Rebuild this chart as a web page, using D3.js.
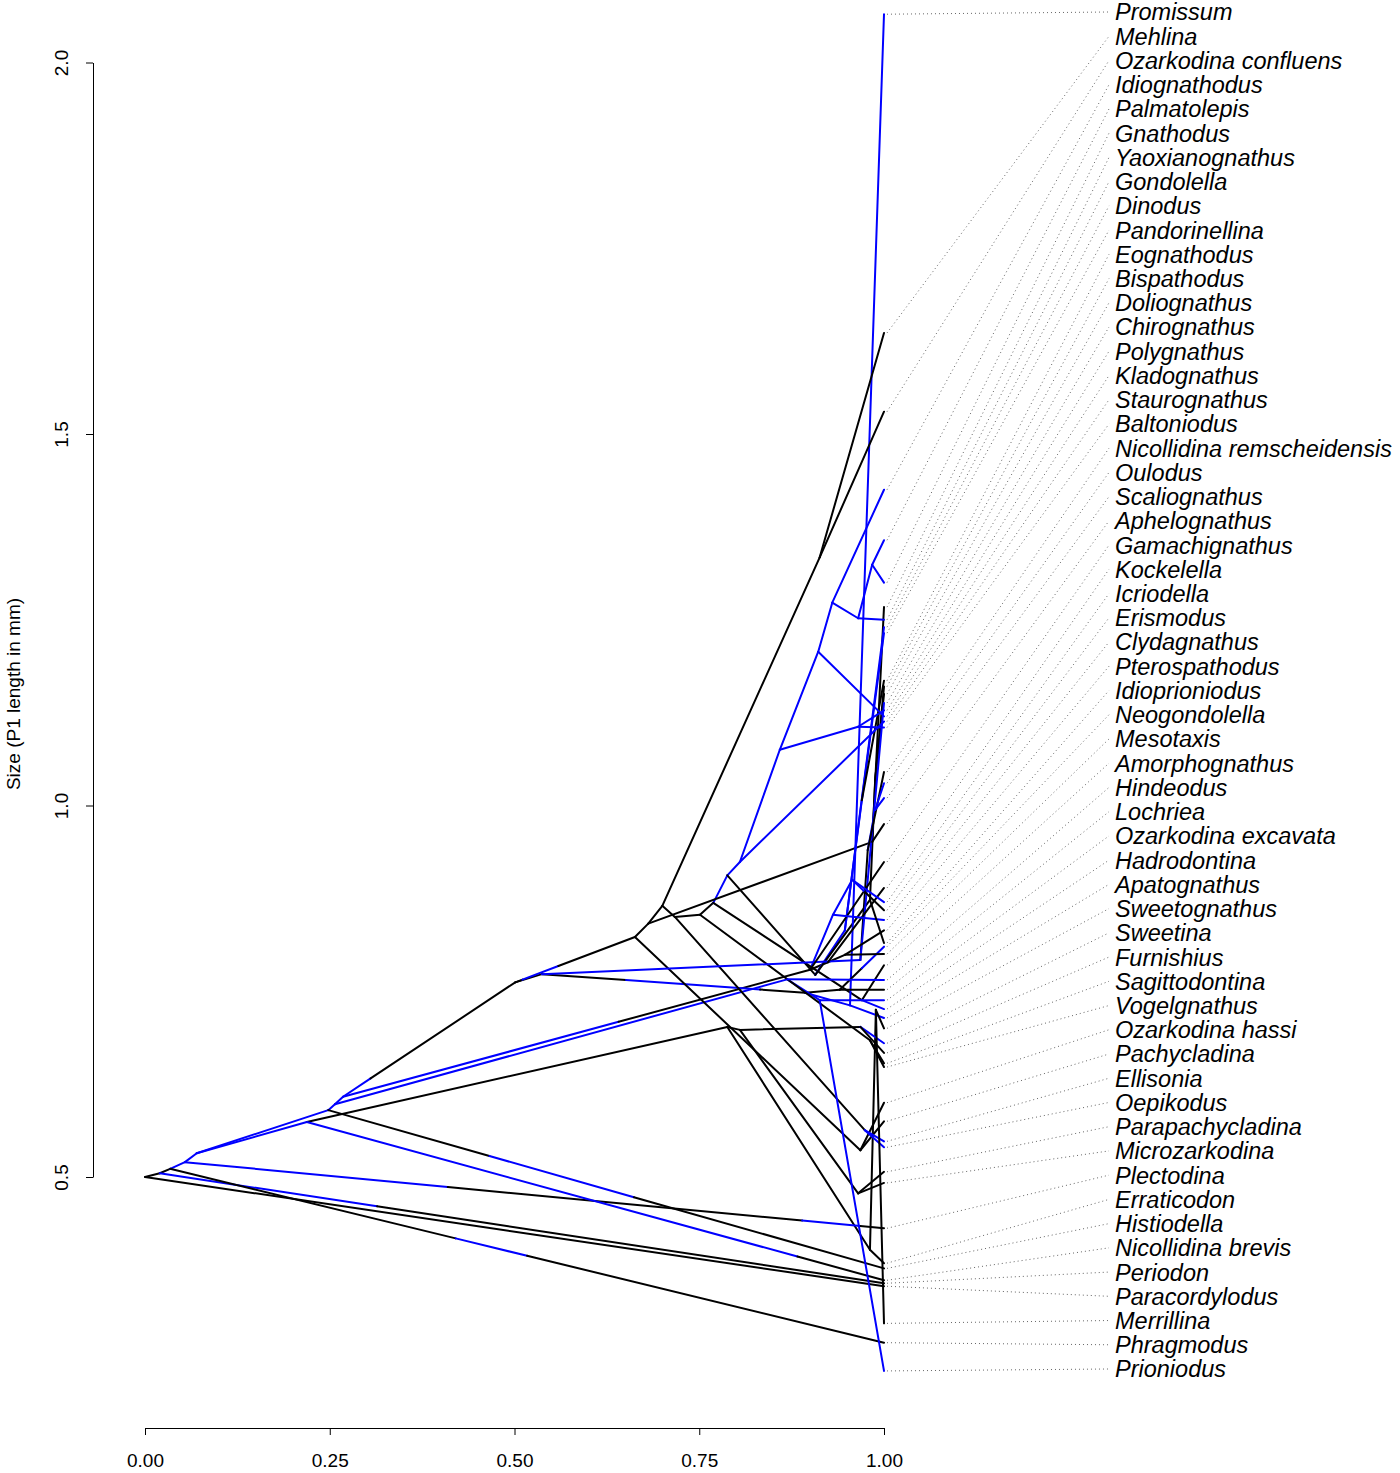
<!DOCTYPE html>
<html>
<head>
<meta charset="utf-8">
<script src="https://cdn.jsdelivr.net/npm/d3@7"></script>
<style>
  body { margin: 0; background: #fff; }
  text { font-family: "Liberation Sans", Arial, Helvetica, sans-serif; }
</style>
</head>
<body>
<div id="chart"></div>
<script>
// tips, top to bottom as listed on the right
const tipNames = ["Promissum", "Mehlina", "Ozarkodina confluens", "Idiognathodus", "Palmatolepis",
  "Gnathodus", "Yaoxianognathus", "Gondolella", "Dinodus", "Pandorinellina", "Eognathodus",
  "Bispathodus", "Doliognathus", "Chirognathus", "Polygnathus", "Kladognathus", "Staurognathus",
  "Baltoniodus", "Nicollidina remscheidensis", "Oulodus", "Scaliognathus", "Aphelognathus",
  "Gamachignathus", "Kockelella", "Icriodella", "Erismodus", "Clydagnathus", "Pterospathodus",
  "Idioprioniodus", "Neogondolella", "Mesotaxis", "Amorphognathus", "Hindeodus", "Lochriea",
  "Ozarkodina excavata", "Hadrodontina", "Apatognathus", "Sweetognathus", "Sweetina", "Furnishius",
  "Sagittodontina", "Vogelgnathus", "Ozarkodina hassi", "Pachycladina", "Ellisonia", "Oepikodus",
  "Parapachycladina", "Microzarkodina", "Plectodina", "Erraticodon", "Histiodella",
  "Nicollidina brevis", "Periodon", "Paracordylodus", "Merrillina", "Phragmodus", "Prioniodus"];

const tipValues = [2.065, 1.636, 1.530, 1.425, 1.357, 1.300, 1.267, 1.250, 1.240, 1.232, 1.168,
  1.160, 1.150, 1.138, 1.128, 1.120, 1.113, 1.105, 1.045, 1.030, 1.010, 0.975, 0.924, 0.889, 0.870,
  0.859, 0.846, 0.832, 0.815, 0.810, 0.800, 0.785, 0.765, 0.752, 0.738, 0.726, 0.714, 0.700, 0.680,
  0.667, 0.653, 0.648, 0.600, 0.575, 0.548, 0.540, 0.507, 0.492, 0.431, 0.384, 0.377, 0.361, 0.357,
  0.353, 0.303, 0.277, 0.239];

const tipParents = ["P", "MO", "MO", "B4", "B6", "B6", "Y0", "B5", "Q1", "Q2", "Q2", "Q4", "Q4",
  "Q5", "B7", "B3", "B1", "B7", "Q6", "Q7", "Q7", "Y0", "H1", "H8", "H7", "H7", "H6", "H8b", "Q3",
  "H10", "H8b", "H19", "H5", "H10", "H11", "H19", "P", "H15", "H12", "H12", "H18", "H18", "H16",
  "H16", "H17", "H17", "H13", "H13", "A3", "H14", "A6", "A5", "A1", "R", "H15", "A2", "H11"];

// k = black state, b = blue state (state of the branch leading to the tip)
const tipStates = ["b", "k", "k", "b", "b", "b", "k", "b", "b", "b", "k", "k", "k", "b", "b", "b",
  "b", "b", "k", "b", "b", "k", "k", "k", "b", "k", "b", "k", "k", "b", "k", "k", "b", "k", "b", "b",
  "b", "k", "b", "k", "k", "k", "k", "k", "b", "b", "k", "k", "b", "k", "k", "b", "k", "k", "k", "k", "b"];

// internal nodes: time from root (0..1) and reconstructed size
const nodeNames = ["R", "A1", "A2", "A3", "A4", "A5", "A6", "A6b", "A7", "A8", "A9", "A10", "A10b",
  "A11", "A12", "A12b", "A13", "B0", "B1", "B2", "B3", "B4", "B5", "B6", "B7", "MO", "Y0", "H1", "H6",
  "H7", "H8", "H8b", "H2", "P", "H10", "H5", "H11", "H4", "H3", "H12", "H13", "H14", "H15", "H16",
  "H17", "H18", "H19", "H20", "Q1", "Q2", "Q3", "Q4", "Q5", "Q6", "Q7"];

const nodeParents = ["", "R", "A1", "A2", "A3", "A4", "A4", "A6", "A6b", "A7", "A8", "A8", "A10",
  "A10b", "A11", "A12", "A12b", "A13", "B0", "B1", "B2", "B3", "B4", "B5", "B2", "A11", "A10b", "A7",
  "H1", "H6", "H1", "H8", "A9", "H2", "H2", "A6b", "H5", "A5", "H4", "H3", "H3", "H4", "H14", "A10",
  "A12", "A12b", "A13", "B0", "H20", "Q1", "H20", "Q3", "A9", "Q5", "Q6"];

const nodeTimes = [0, 0.020, 0.034, 0.054, 0.070, 0.219, 0.248, 0.257, 0.268, 0.501, 0.537, 0.663,
  0.681, 0.700, 0.717, 0.751, 0.769, 0.788, 0.805, 0.859, 0.911, 0.930, 0.965, 0.984, 0.965, 0.913,
  0.984, 0.900, 0.931, 0.957, 0.924, 0.947, 0.893, 0.954, 0.940, 0.869, 0.913, 0.788, 0.805, 0.968,
  0.965, 0.981, 0.989, 0.968, 0.974, 0.981, 0.970, 0.907, 0.947, 0.970, 0.981, 0.988, 0.968, 0.978, 0.988];

const nodeValues = [0.500, 0.505, 0.511, 0.520, 0.532, 0.574, 0.590, 0.598, 0.608, 0.762, 0.773,
  0.823, 0.841, 0.865, 0.850, 0.853, 0.869, 0.906, 0.924, 1.075, 1.207, 1.273, 1.252, 1.324, 1.106,
  1.334, 0.951, 0.779, 0.853, 0.900, 0.789, 0.799, 0.748, 0.731, 0.752, 0.766, 0.738, 0.702, 0.698,
  0.702, 0.478, 0.402, 0.725, 0.536, 0.563, 0.684, 0.738, 0.772, 0.832, 1.007, 0.873, 1.034, 0.792,
  0.940, 0.994];

const nodeStates = ["k", "k", "k", "b", "b", "b", "b", "b", "b", "k", "k", "k", "k", "k", "k", "k",
  "k", "b", "b", "b", "b", "b", "b", "b", "b", "k", "k", "k", "b", "b", "k", "k", "k", "b", "k", "b",
  "b", "k", "k", "k", "k", "k", "k", "k", "k", "k", "k", "k", "b", "b", "k", "k", "b", "k", "b"];

// stretches of a branch spent in the other state: [branch, from, to, state]
const stateChanges = [
  ["Phragmodus", 0.40, 0.50, "b"],
  ["Periodon", 0, 0.30, "b"],
  ["Plectodina", 0.376, 0.883, "k"],
  ["Plectodina", 0.966, 1, "k"],
  ["Nicollidina brevis", 0.85, 1, "k"],
  ["Histiodella", 0.29, 0.55, "b"],
  ["A8", 0, 0.16, "b"],
  ["A10", 0.06, 0.36, "b"],
  ["H1", 0, 0.59, "b"],
  ["H2", 0.32, 0.83, "b"],
  ["Erismodus", 0, 0.4, "b"],
  ["Neogondolella", 0, 0.5, "k"]
];

const xTicks = [0, 0.25, 0.5, 0.75, 1];
const yTicks = [0.5, 1.0, 1.5, 2.0];
const stateColor = { k: "#000000", b: "#0000ff" };

const width = 1400, height = 1473;

const svg = d3.select("#chart").append("svg")
  .attr("width", width)
  .attr("height", height);

const x = d3.scaleLinear().domain([0, 1]).range([145, 884]);
const y = d3.scaleLinear().domain([0.5, 2]).range([1177, 62.5]);
const labelY = d3.scalePoint().domain(tipNames).range([12, 1369]);

// axes
const yAxis = svg.append("g")
  .attr("transform", "translate(93,0)")
  .call(d3.axisLeft(y).tickValues(yTicks).tickFormat(d3.format(".1f")).tickSize(7).tickSizeOuter(0));
yAxis.selectAll("text")
  .attr("x", null).attr("dy", null)
  .attr("text-anchor", "middle")
  .attr("transform", "translate(-25,0) rotate(-90)")
  .style("font-size", "19px")
  .attr("fill", "#000");

const xAxis = svg.append("g")
  .attr("transform", "translate(0,1428)")
  .call(d3.axisBottom(x).tickValues(xTicks).tickFormat(d3.format(".2f")).tickSize(7).tickSizeOuter(0).tickPadding(19));
xAxis.selectAll("text").style("font-size", "19px").attr("fill", "#000");

svg.selectAll(".domain, .tick line").attr("stroke", "#000").attr("stroke-width", 1);
svg.selectAll(".tick text").style("font-family", "\"Liberation Sans\", Arial, sans-serif");

svg.append("text")
  .attr("transform", "translate(20,694) rotate(-90)")
  .attr("text-anchor", "middle")
  .style("font-size", "19px")
  .text("Size (P1 length in mm)");

// build tree
const nodes = new Map();
nodeNames.forEach((n, i) => nodes.set(n, {
  t: nodeTimes[i], v: nodeValues[i], parent: nodeParents[i], state: nodeStates[i]
}));
tipNames.forEach((n, i) => nodes.set(n, {
  t: 1, v: tipValues[i], parent: tipParents[i], state: tipStates[i]
}));

const pieces = [];
nodes.forEach((d, name) => {
  if (!d.parent) return;
  const p = nodes.get(d.parent);
  const ch = stateChanges.filter(c => c[0] === name).sort((a, b) => a[1] - b[1]);
  let pos = 0;
  const parts = [];
  ch.forEach(c => {
    if (c[1] > pos) parts.push([pos, c[1], d.state]);
    parts.push([c[1], c[2], c[3]]);
    pos = c[2];
  });
  if (pos < 1) parts.push([pos, 1, d.state]);
  parts.forEach(s => pieces.push({
    t1: p.t + (d.t - p.t) * s[0], v1: p.v + (d.v - p.v) * s[0],
    t2: p.t + (d.t - p.t) * s[1], v2: p.v + (d.v - p.v) * s[1],
    state: s[2]
  }));
});

// dotted leaders from tips to labels
svg.append("g").selectAll("line")
  .data(tipNames)
  .join("line")
  .attr("x1", x(1) + 3)
  .attr("y1", (d, i) => y(tipValues[i]))
  .attr("x2", 1109)
  .attr("y2", d => labelY(d))
  .attr("stroke", "#666")
  .attr("stroke-width", 1)
  .attr("stroke-dasharray", "1,3");

// branches
svg.append("g").selectAll("line")
  .data(pieces)
  .join("line")
  .attr("x1", d => x(d.t1))
  .attr("y1", d => y(d.v1))
  .attr("x2", d => x(d.t2))
  .attr("y2", d => y(d.v2))
  .attr("stroke", d => stateColor[d.state])
  .attr("stroke-width", 2)
  .attr("stroke-linecap", "round");

// tip labels
svg.append("g").selectAll("text")
  .data(tipNames)
  .join("text")
  .attr("x", 1115)
  .attr("y", d => labelY(d))
  .attr("dy", "0.36em")
  .style("font-size", "23.5px")
  .style("font-style", "italic")
  .text(d => d);
</script>
</body>
</html>
